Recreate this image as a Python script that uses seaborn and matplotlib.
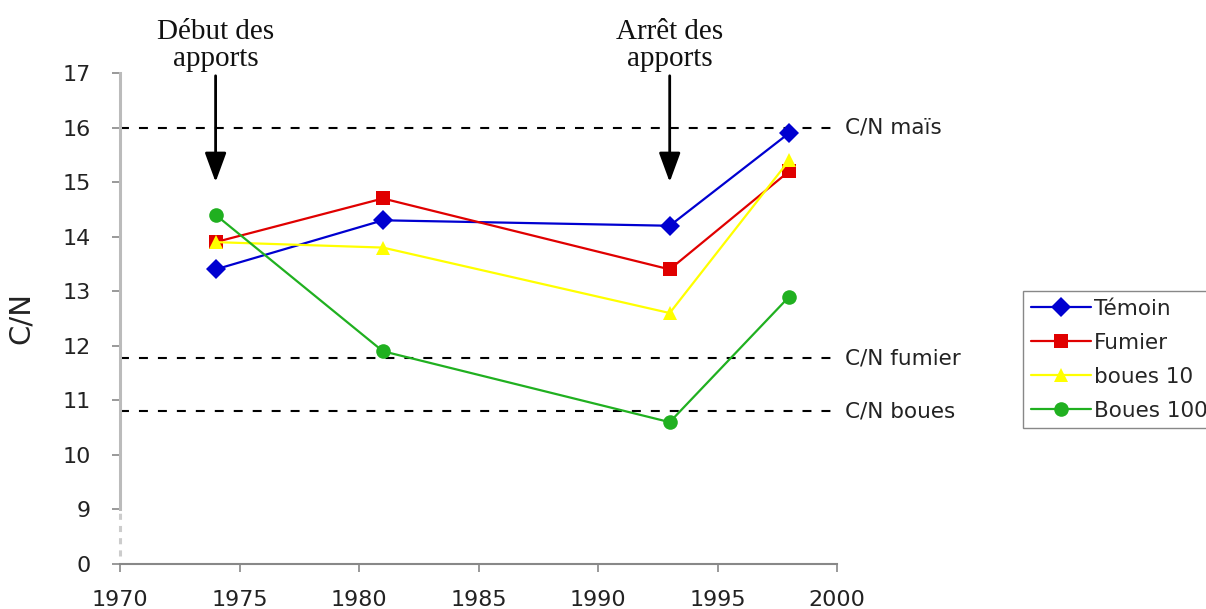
import numpy as np
import pandas as pd
import matplotlib
matplotlib.use("Agg")
import matplotlib.pyplot as plt
import seaborn as sns

# ================= DATA =================
annees = [1974, 1981, 1993, 1998]
temoin = [13.4, 14.3, 14.2, 15.9]
fumier = [13.9, 14.7, 13.4, 15.2]
boues10 = [13.9, 13.8, 12.6, 15.4]
boues100 = [14.4, 11.9, 10.6, 12.9]
series_names = ["Témoin", "Fumier", "boues 10", "Boues 100"]

ref_values = [16.0, 11.77, 10.8]
ref_labels = ["C/N maïs", "C/N fumier", "C/N boues"]

events_x = [1974, 1993]
events_labels = ["Début des\napports", "Arrêt des\napports"]

xticks = [1970, 1975, 1980, 1985, 1990, 1995, 2000]
yticks = [8, 9, 10, 11, 12, 13, 14, 15, 16, 17]
ytick_labels = ["0", "9", "10", "11", "12", "13", "14", "15", "16", "17"]

# ================= STYLE =================
sns.set_style("white")
plt.rcParams["font.family"] = ["DejaVu Sans"]

palette = {"Témoin": "#0000d0", "Fumier": "#e00000",
           "boues 10": "#ffff00", "Boues 100": "#20b020"}
markers = {"Témoin": "D", "Fumier": "s", "boues 10": "^", "Boues 100": "o"}

df = pd.DataFrame({
    "annee": annees * 4,
    "cn": temoin + fumier + boues10 + boues100,
    "traitement": np.repeat(series_names, len(annees)),
})

fig = plt.figure(figsize=(12.06, 6.09), dpi=100)
ax = fig.add_axes([120 / 1206, 1 - 564 / 609, (837 - 120) / 1206, (564 - 73) / 609])

# reference dashed lines
for v, lab in zip(ref_values, ref_labels):
    ax.axhline(v, color="black", lw=1.5, dashes=(4.3, 4.8), zorder=1)
    ax.text(2000.35, v, lab, ha="left", va="center", fontsize=15.5,
            color="#222222", clip_on=False)

sns.lineplot(data=df, x="annee", y="cn", hue="traitement", style="traitement",
             hue_order=series_names, style_order=series_names,
             palette=palette, markers=markers, dashes=False,
             markersize=10.5, markeredgewidth=0, lw=1.6, ax=ax, zorder=3)

# arrows + event labels
for xe, lab in zip(events_x, events_labels):
    ax.annotate("", xy=(xe, 14.95), xytext=(xe, 17.0),
                arrowprops=dict(arrowstyle="-|>,head_length=0.6,head_width=0.22",
                                color="black", lw=2, mutation_scale=30),
                annotation_clip=False)
    ax.text(xe, 17.01, lab, ha="center", va="bottom", fontsize=21,
            family="Liberation Serif", linespacing=1.05, color="#111111",
            clip_on=False)

# axes
ax.set_xlim(1970, 2000)
ax.set_ylim(8, 17)
ax.set_xticks(xticks)
ax.set_yticks(yticks)
ax.set_yticklabels(ytick_labels)
ax.set_xlabel("")
ax.set_ylabel("C/N", fontsize=21, labelpad=20, color="#222222")
ax.tick_params(axis="both", direction="out", length=6, width=1.2,
               bottom=True, left=True,
               colors="#888888", labelcolor="#222222", labelsize=16)
ax.tick_params(axis="y", pad=15)
ax.tick_params(axis="x", pad=13)

for s in ["top", "right"]:
    ax.spines[s].set_visible(False)
ax.spines["left"].set_color("#bbbbbb")
ax.spines["left"].set_linewidth(2.2)
ax.spines["left"].set_bounds(9, 17)
ax.spines["bottom"].set_color("#888888")
ax.spines["bottom"].set_linewidth(1.5)
ax.plot([1970, 1970], [8.15, 8.95], color="#cccccc", lw=2.2,
        dashes=(2, 2), clip_on=False, zorder=0)

# legend
handles, labels = ax.get_legend_handles_labels()
ax.legend(handles, labels, loc="upper left",
          bbox_to_anchor=(1023 / 1206, 1 - 291 / 609),
          bbox_transform=fig.transFigure, borderaxespad=0,
          fontsize=15.5, handlelength=2.8, handletextpad=0.15,
          labelspacing=0.65, borderpad=0.35, fancybox=False,
          edgecolor="#888888", framealpha=1)

fig.savefig("out.png", dpi=100)
